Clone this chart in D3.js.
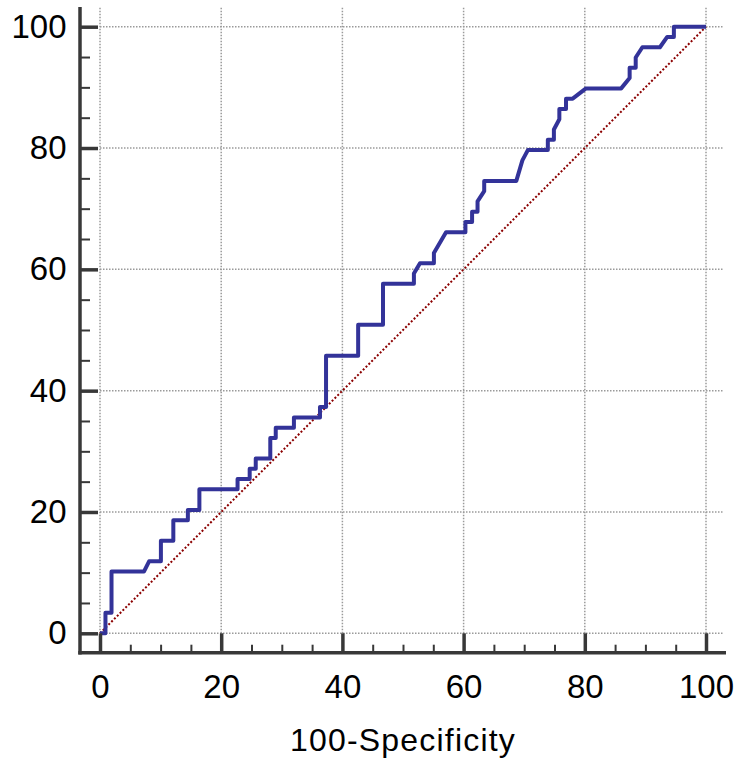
<!DOCTYPE html>
<html>
<head>
<meta charset="utf-8">
<script src="https://cdn.jsdelivr.net/npm/d3@7"></script>
<style>
  html, body { margin: 0; padding: 0; background: #fff; }
  svg { display: block; font-family: "Liberation Sans", Arial, sans-serif; }
</style>
</head>
<body>
<svg id="chart" width="738" height="760"></svg>
<script>
// ROC curve vertices: 100-Specificity (x) and Sensitivity (y), in percent
const fpr = [0, 0.9, 0.9, 1.9, 1.9, 7.25, 8.1, 10.05, 10.05, 12.1, 12.1, 14.5, 14.5, 16.4, 16.4,
  22.7, 22.7, 24.7, 24.7, 25.7, 25.7, 28.1, 28.1, 29.0, 29.0, 32.0, 32.0, 36.3, 36.3, 37.3, 37.3,
  42.6, 42.6, 46.7, 46.7, 51.8, 51.8, 52.8, 55.1, 55.1, 57.1, 60.3, 60.3, 61.4, 61.4, 62.3, 62.3,
  63.4, 63.4, 68.7, 69.7, 70.6, 73.9, 73.9, 74.9, 74.9, 75.8, 75.8, 76.9, 76.9, 78.0, 80.2, 86.0,
  87.4, 87.4, 88.4, 88.4, 89.5, 92.4, 93.6, 94.7, 94.7, 100];
const tpr = [0, 0, 3.39, 3.39, 10.17, 10.17, 11.86, 11.86, 15.25, 15.25, 18.64, 18.64, 20.34, 20.34, 23.73,
  23.73, 25.42, 25.42, 27.12, 27.12, 28.81, 28.81, 32.20, 32.20, 33.90, 33.90, 35.59, 35.59, 37.29, 37.29, 45.76,
  45.76, 50.85, 50.85, 57.63, 57.63, 59.32, 61.02, 61.02, 62.71, 66.10, 66.10, 67.80, 67.80, 69.49, 69.49, 71.19,
  72.88, 74.58, 74.58, 77.97, 79.66, 79.66, 81.36, 81.36, 83.05, 84.75, 86.44, 86.44, 88.14, 88.14, 89.83, 89.83,
  91.53, 93.22, 93.22, 94.92, 96.61, 96.61, 98.31, 98.31, 100, 100];

// Reference (chance) line
const diagX = [0, 100];
const diagY = [0, 100];

// Axis ticks
const majorTicks = [0, 20, 40, 60, 80, 100];
const minorTicks = [5, 10, 15, 25, 30, 35, 45, 50, 55, 65, 70, 75, 85, 90, 95];

const xTitle = "100-Specificity";

const svg = d3.select("#chart");

const x = d3.scaleLinear().domain([0, 100]).range([100, 706]);
const y = d3.scaleLinear().domain([0, 100]).range([633.3, 26.7]);

const axisX = 80;      // left axis line position
const axisY = 652.7;   // bottom axis line position
const gridRight = 723;
const gridTop = 7;

// Dotted grid
const grid = svg.append("g")
  .attr("stroke", "#9a9a9a")
  .attr("stroke-width", 1.5)
  .attr("stroke-dasharray", "1.5,1.5")
  .attr("fill", "none");
grid.selectAll("line.v").data(majorTicks).join("line")
  .attr("class", "v")
  .attr("x1", d => x(d)).attr("x2", d => x(d))
  .attr("y1", y(0)).attr("y2", gridTop);
grid.selectAll("line.h").data(majorTicks).join("line")
  .attr("class", "h")
  .attr("x1", x(0)).attr("x2", gridRight)
  .attr("y1", d => y(d)).attr("y2", d => y(d));

// Diagonal chance line
svg.append("path")
  .datum(d3.zip(diagX, diagY))
  .attr("d", d3.line().x(d => x(d[0])).y(d => y(d[1])))
  .attr("fill", "none")
  .attr("stroke", "#8b0000")
  .attr("stroke-width", 2)
  .attr("stroke-dasharray", "2,2");

// ROC curve
svg.append("path")
  .datum(d3.zip(fpr, tpr))
  .attr("d", d3.line().x(d => x(d[0])).y(d => y(d[1])))
  .attr("fill", "none")
  .attr("stroke", "#333399")
  .attr("stroke-width", 4)
  .attr("stroke-linejoin", "round");

// Axes: ticks pointing inward toward the plot
const axisColor = "#383838";
const tickFont = 33;

const yAxis = svg.append("g")
  .attr("transform", `translate(${axisX},0)`)
  .call(d3.axisLeft(y).tickValues(majorTicks).tickFormat(d3.format("d"))
    .tickSizeInner(-(x(0) - axisX - 2)).tickSizeOuter(0).tickPadding(13.5));
const yMinor = svg.append("g")
  .attr("transform", `translate(${axisX},0)`)
  .call(d3.axisLeft(y).tickValues(minorTicks).tickFormat("")
    .tickSizeInner(-10).tickSizeOuter(0));

const xAxis = svg.append("g")
  .attr("transform", `translate(0,${axisY})`)
  .call(d3.axisBottom(x).tickValues(majorTicks).tickFormat(d3.format("d"))
    .tickSizeInner(-(axisY - y(0))).tickSizeOuter(0).tickPadding(22));
const xMinor = svg.append("g")
  .attr("transform", `translate(0,${axisY})`)
  .call(d3.axisBottom(x).tickValues(minorTicks).tickFormat("")
    .tickSizeInner(-8).tickSizeOuter(0));

[yAxis, yMinor, xAxis, xMinor].forEach(g => g.select(".domain").remove());
[yAxis, xAxis].forEach(g => {
  g.selectAll(".tick line").attr("stroke", axisColor).attr("stroke-width", 3.5);
  g.selectAll(".tick text")
    .attr("fill", "#000")
    .style("font-size", tickFont + "px")
    .style("font-family", "'Liberation Sans', Arial, sans-serif");
});
[yMinor, xMinor].forEach(g => {
  g.selectAll(".tick line").attr("stroke", axisColor).attr("stroke-width", 2);
});

// Axis lines
svg.append("line")
  .attr("x1", axisX).attr("x2", axisX)
  .attr("y1", gridTop).attr("y2", axisY + 1.75)
  .attr("stroke", axisColor).attr("stroke-width", 3.5);
svg.append("line")
  .attr("x1", axisX - 1.75).attr("x2", 726)
  .attr("y1", axisY).attr("y2", axisY)
  .attr("stroke", axisColor).attr("stroke-width", 3.5);

// Axis title
svg.append("text")
  .attr("x", (x(0) + x(100)) / 2)
  .attr("y", 751)
  .attr("text-anchor", "middle")
  .style("font-size", "32px")
  .style("letter-spacing", "1.2px")
  .text(xTitle);
</script>
</body>
</html>
